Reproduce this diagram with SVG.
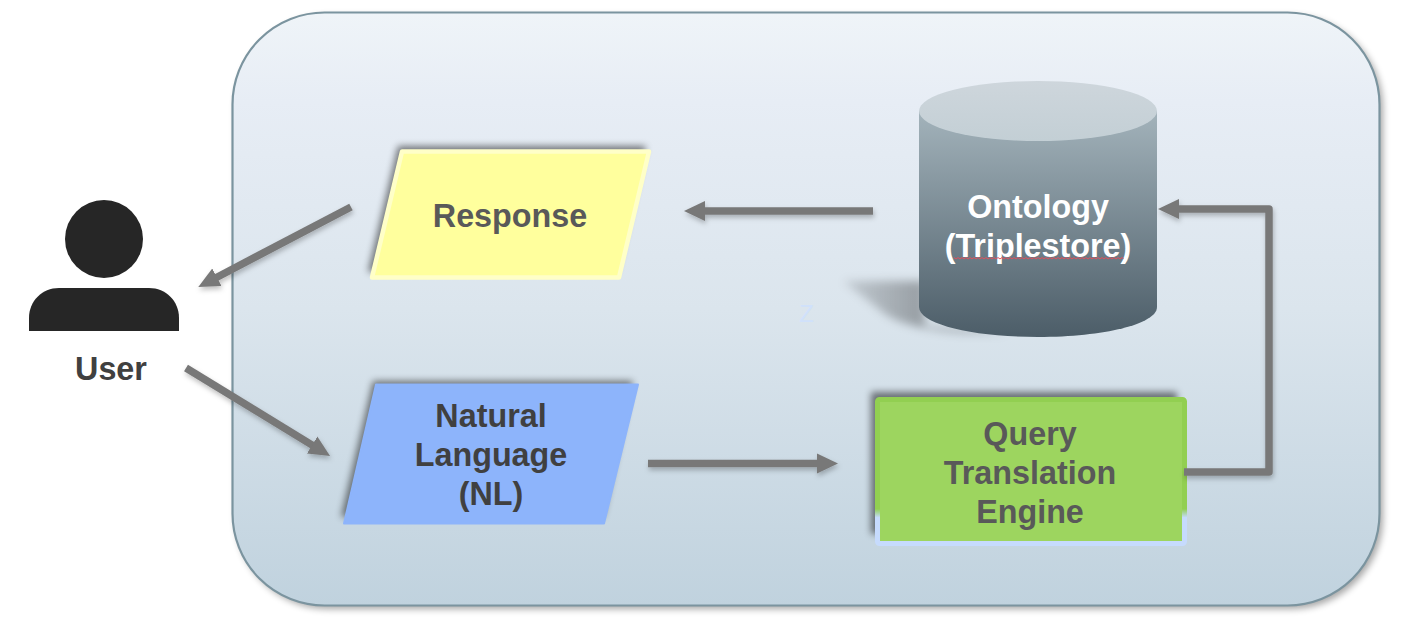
<svg xmlns="http://www.w3.org/2000/svg" width="1415" height="620" viewBox="0 0 1415 620">
<defs>
<linearGradient id="bg" x1="0" y1="0" x2="0" y2="1"><stop offset="0" stop-color="#eff4f8"/><stop offset="0.15" stop-color="#e7edf5"/><stop offset="0.5" stop-color="#dbe5ed"/><stop offset="1" stop-color="#c0d2de"/></linearGradient>
<linearGradient id="cyl" x1="0" y1="0" x2="0" y2="1"><stop offset="0" stop-color="#a3b3bb"/><stop offset="1" stop-color="#4c5d68"/></linearGradient>
<linearGradient id="cap" x1="0" y1="0" x2="0" y2="1"><stop offset="0" stop-color="#ced6dc"/><stop offset="1" stop-color="#c3cfd5"/></linearGradient>
<linearGradient id="edge" x1="0" y1="0" x2="0" y2="1"><stop offset="0" stop-color="#92cf51"/><stop offset="0.76" stop-color="#92cf51"/><stop offset="0.82" stop-color="#c6dbfd"/><stop offset="1" stop-color="#c6dbfd"/></linearGradient>
<linearGradient id="cylShadow" x1="0" y1="0" x2="1" y2="0"><stop offset="0" stop-color="#000" stop-opacity="0.12"/><stop offset="0.45" stop-color="#000" stop-opacity="0.3"/><stop offset="1" stop-color="#000" stop-opacity="0.3"/></linearGradient>
<filter id="soft" x="-20%" y="-20%" width="140%" height="140%"><feGaussianBlur stdDeviation="3.5"/></filter>
<filter id="softer" x="-20%" y="-30%" width="140%" height="160%"><feGaussianBlur stdDeviation="5"/></filter>
<filter id="lineShadow" x="-20%" y="-20%" width="140%" height="140%"><feDropShadow dx="1" dy="3" stdDeviation="2.5" flood-color="#000" flood-opacity="0.25"/></filter>
<marker id="arrow" markerUnits="userSpaceOnUse" markerWidth="22" markerHeight="22" refX="1" refY="10.500" orient="auto"><path d="M0 0.500L21 10.500L0 20.500Z" fill="#787878"/></marker>
</defs>
<style>
text{font-family:"Liberation Sans",Arial,sans-serif;font-weight:700;font-size:32.3px;text-anchor:middle}
.dark{fill:#595959}.nl{fill:#404040}.white{fill:#fff}
.conn{fill:none;stroke:#787878;stroke-width:7.5;marker-end:url(#arrow);stroke-linejoin:round}
</style>
<rect width="1415" height="620" fill="#fff"/>
<g id="container">
<rect x="236" y="16" width="1147" height="593" rx="92" fill="#000" opacity="0.35" filter="url(#soft)"/>
<rect x="232.500" y="12.500" width="1147" height="593" rx="92" fill="url(#bg)" stroke="#7b949f" stroke-width="2.200"/>
<text x="806.500" y="322" style="font-size:24px;font-weight:400" fill="#d0e1fb">Z</text>
</g>
<g id="response">
<path d="M398 146H646L616 272H368Z" fill="#000" opacity="0.5" filter="url(#soft)"/>
<path d="M402 151.500H649L619 277.500H372Z" fill="#ffff9d" stroke="#ffffc8" stroke-width="4.500" stroke-linejoin="round"/>
<text class="dark" x="510" y="227">Response</text>
</g>
<g id="natural-language">
<path d="M373 381H633L603 517H341Z" fill="#000" opacity="0.5" filter="url(#soft)"/>
<path d="M376 384.500H638L604 523.500H344Z" fill="#8db4fb" stroke="#8db4fb" stroke-width="2" stroke-linejoin="round"/>
<text class="nl" x="491" y="427">Natural</text>
<text class="nl" x="491" y="466">Language</text>
<text class="nl" x="491" y="505">(NL)</text>
</g>
<g id="ontology">
<path d="M843 281H925V326L1010 332C950 336 900 328 880 310Z" fill="url(#cylShadow)" filter="url(#softer)"/>
<path d="M919 111V307C919 324 972 337 1038 337C1104 337 1157 324 1157 307V111Z" fill="url(#cyl)"/>
<ellipse cx="1038" cy="111" rx="119" ry="30" fill="url(#cap)"/>
<text class="white" x="1038" y="217.500">Ontology</text>
<text class="white" x="1038" y="256.500">(Triplestore)</text>
<path d="M954 257.500l2 1.500l2-1.500l2 1.500l2-1.500l2 1.500l2-1.500l2 1.500l2-1.500l2 1.500l2-1.500l2 1.500l2-1.500l2 1.500l2-1.500l2 1.500l2-1.500l2 1.500l2-1.500l2 1.500l2-1.500l2 1.500l2-1.500l2 1.500l2-1.500l2 1.500l2-1.500l2 1.500l2-1.500l2 1.500l2-1.500l2 1.500l2-1.500l2 1.500l2-1.500l2 1.500l2-1.500l2 1.500l2-1.500l2 1.500l2-1.500l2 1.500l2-1.500l2 1.500l2-1.500l2 1.500l2-1.500l2 1.500l2-1.500l2 1.500l2-1.500l2 1.500l2-1.500l2 1.500l2-1.500l2 1.500l2-1.500l2 1.500l2-1.500l2 1.500l2-1.500l2 1.500l2-1.500l2 1.500l2-1.500l2 1.500l2-1.500l2 1.500l2-1.500l2 1.500l2-1.500l2 1.500l2-1.500l2 1.500l2-1.500l2 1.500l2-1.500l2 1.500l2-1.500l2 1.500l2-1.500l2 1.500l2-1.500l2 1.500l2-1.500l2 1.500l2-1.500l2 1.500" fill="none" stroke="#e2505c" stroke-width="1" stroke-dasharray="212 999"/>
</g>
<g id="query-engine">
<rect x="871" y="392" width="306" height="142" fill="#000" opacity="0.5" filter="url(#soft)"/>
<rect x="877.500" y="399.500" width="307" height="144" rx="2" fill="#9dd55f" stroke="url(#edge)" stroke-width="5"/>
<text class="dark" x="1030" y="445">Query</text>
<text class="dark" x="1030" y="484">Translation</text>
<text class="dark" x="1030" y="523">Engine</text>
</g>
<g id="user">
<circle cx="104" cy="239" r="39" fill="#262626"/>
<path d="M29 331V318C29 301 42 288 59 288H149C166 288 179 301 179 318V331Z" fill="#262626"/>
<text class="nl" x="111" y="379.500">User</text>
</g>
<g id="connectors" filter="url(#lineShadow)">
<path class="conn" d="M351 207L216 277.700"/>
<path class="conn" d="M186 368L313 445.600"/>
<path class="conn" d="M648 463.500H818"/>
<path class="conn" d="M873 211H704"/>
<path class="conn" d="M1184 472H1269V209H1178"/>
</g>
</svg>
